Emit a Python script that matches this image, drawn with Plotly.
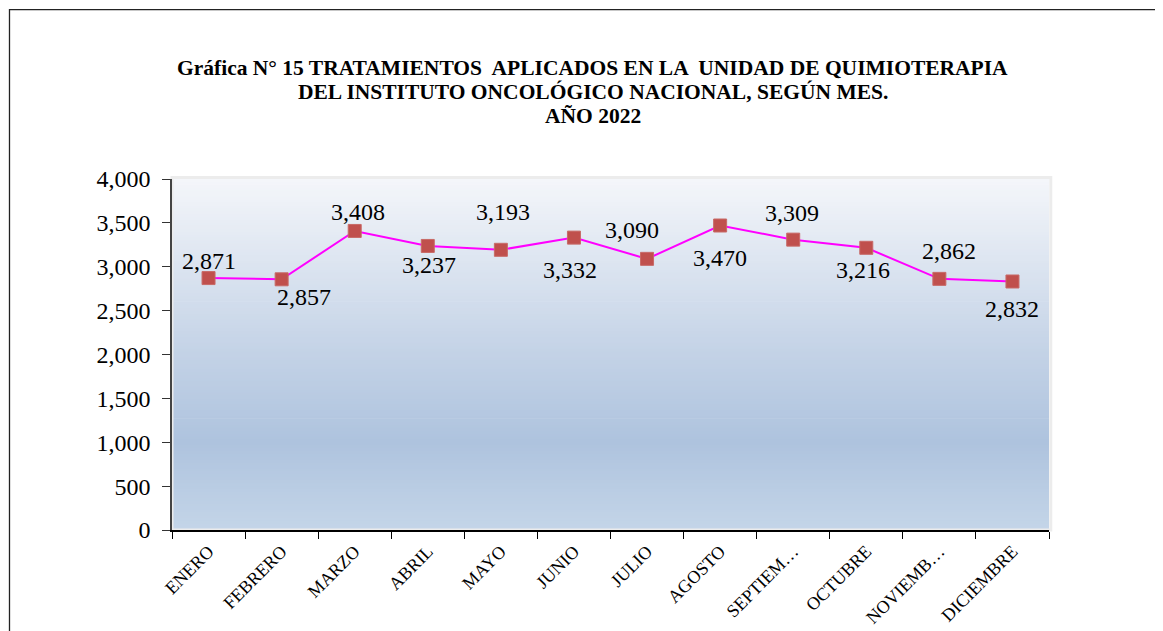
import plotly.graph_objects as go

months = ["ENERO", "FEBRERO", "MARZO", "ABRIL", "MAYO", "JUNIO", "JULIO",
          "AGOSTO", "SEPTIEM…", "OCTUBRE", "NOVIEMB…", "DICIEMBRE"]
treatments = [2871, 2857, 3408, 3237, 3193, 3332, 3090, 3470, 3309, 3216, 2862, 2832]
y_ticks = [0, 500, 1000, 1500, 2000, 2500, 3000, 3500, 4000]
title_lines = ["Gráfica N° 15 TRATAMIENTOS  APLICADOS EN LA  UNIDAD DE QUIMIOTERAPIA",
               "DEL INSTITUTO ONCOLÓGICO NACIONAL, SEGÚN MES.",
               "AÑO 2022"]

# label placement (style only): pixel offsets of each data label from its point
label_yshift = [17, -18, 19, -19, 38, -32, 29, -32, 27, -22, 28, -28]
label_xshift = [0, 22, 3, 1, 2, -4, -15, 0, -1, -3, 10, 0]
title_y = [1.316, 1.248, 1.179]

FONT = "Liberation Serif, Times New Roman, serif"

fig = go.Figure()
fig.add_trace(go.Scatter(
    x=months, y=treatments, mode="lines+markers",
    line=dict(color="#ff00ff", width=2),
    marker=dict(symbol="square", size=13, color="#c0504d",
                line=dict(color="#c86a67", width=1)),
    hoverinfo="x+y", showlegend=False,
))

for i, (m, v) in enumerate(zip(months, treatments)):
    fig.add_annotation(x=m, y=v, text=f"{v:,}", showarrow=False,
                       xshift=label_xshift[i], yshift=label_yshift[i],
                       font=dict(family=FONT, size=24, color="black"))

for line, ty in zip(title_lines, title_y):
    fig.add_annotation(xref="paper", yref="paper", x=0.48, y=ty, text=f"<b>{line}</b>",
                       showarrow=False, xanchor="center", yanchor="middle",
                       font=dict(family=FONT, size=21.5, color="black"))

# gradient background of plot area
def lerp(c1, c2, t):
    return tuple(round(a + (b - a) * t) for a, b in zip(c1, c2))

stops = [(0.0, (196, 213, 232)), (0.25, (174, 195, 222)), (0.5, (195, 210, 230)),
         (1.0, (244, 246, 250))]
n = 120
shapes = []
for k in range(n):
    y0 = k / n
    y1 = (k + 1) / n
    t = (y0 + y1) / 2
    for j in range(len(stops) - 1):
        if stops[j][0] <= t <= stops[j + 1][0]:
            tt = (t - stops[j][0]) / (stops[j + 1][0] - stops[j][0])
            c = lerp(stops[j][1], stops[j + 1][1], tt)
            break
    shapes.append(dict(type="rect", xref="paper", yref="paper", x0=0, x1=1,
                       y0=y0, y1=y1 + 0.002, layer="below", line=dict(width=0),
                       fillcolor="rgb(%d,%d,%d)" % c))
# light frame of plot area
shapes.append(dict(type="rect", xref="paper", yref="paper", x0=0, x1=1.002,
                   y0=0, y1=1.004, layer="below",
                   line=dict(color="#ececec", width=3)))
# outer chart border
shapes.append(dict(type="rect", xref="paper", yref="paper", x0=-0.1853, x1=1.3,
                   y0=-0.5, y1=1.4828, layer="above",
                   line=dict(color="#222222", width=1.3)))

fig.update_layout(
    width=1155, height=623,
    margin=dict(l=164, r=114, t=171, b=101, autoexpand=False),
    paper_bgcolor="white", plot_bgcolor="rgba(0,0,0,0)",
    shapes=shapes,
    xaxis=dict(
        type="category", tickangle=-45, ticks="outside", tickson="boundaries",
        ticklen=7, tickcolor="black", showline=True, linecolor="black",
        linewidth=1.5, showgrid=False, zeroline=False, automargin=False,
        tickfont=dict(family=FONT, size=18, color="black"),
        range=[-0.5, 11.5], ticklabelstandoff=2,
    ),
    yaxis=dict(
        range=[0, 4000], tickvals=y_ticks, ticktext=[f"{t:,}" for t in y_ticks],
        ticks="outside", ticklen=8, tickcolor="#333333", showline=True,
        linecolor="#444444", linewidth=1.5, showgrid=False, zeroline=False,
        tickfont=dict(family=FONT, size=24, color="black"), automargin=False,
        ticklabelstandoff=7,
    ),
)

fig.write_html("out.html")
